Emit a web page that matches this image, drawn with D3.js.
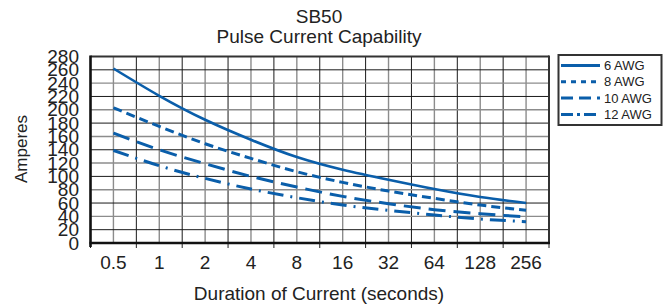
<!DOCTYPE html>
<html>
<head>
<meta charset="utf-8">
<script src="https://cdn.jsdelivr.net/npm/d3@7"></script>
<style>
  body { margin: 0; background: #fff; }
  svg { display: block; font-family: "Liberation Sans", Arial, sans-serif; }
</style>
</head>
<body>
<svg id="chart" width="668" height="308"></svg>
<script>
// pulse durations in seconds (log2 axis)
const durations = [0.5, 1, 2, 4, 8, 16, 32, 64, 128, 256]
// amperes
const awg6  = [262, 221, 185, 155, 129, 110, 95, 81, 69, 60]
const awg8  = [203, 175, 149, 127, 107, 91, 78, 67, 57, 49]
const awg10 = [165, 140, 119, 100, 84, 70, 59, 50, 44, 39]
const awg12 = [139, 116, 97, 81, 68, 57, 49, 42, 36, 32]
const seriesNames = ["6 AWG", "8 AWG", "10 AWG", "12 AWG"]
const yTicks = [0, 20, 40, 60, 80, 100, 120, 140, 160, 180, 200, 220, 240, 260, 280]

const blue = "#0a5eaa"
const dashes = [null, "9,5", "17,8", "16,7,2,7"]
const legendDashes = [null, "5,5", "12,6", "12,4,3,4"]

const svg = d3.select("#chart")
const pLeft = 90.5, pRight = 549, pTop = 56.5, pBottom = 243

const x = d3.scaleLog().base(2)
  .domain([0.5 / Math.SQRT2, 256 * Math.SQRT2])
  .range([pLeft, pRight])
const y = d3.scaleLinear().domain([0, 280]).range([pBottom, pTop])

// vertical grid: half-doubling steps, dark on the tick positions
const vLines = d3.range(1, 20).map(k => 0.5 / Math.SQRT2 * Math.pow(2, k / 2))
svg.append("g").selectAll("line")
  .data(vLines)
  .enter().append("line")
    .attr("x1", d => x(d)).attr("x2", d => x(d))
    .attr("y1", pTop).attr("y2", pBottom)
    .attr("stroke", (d, i) => i % 2 === 0 ? "#8c8c8c" : "#1a1a1a")
    .attr("stroke-width", (d, i) => i % 2 === 0 ? 1.4 : 1)

svg.append("g").selectAll("line")
  .data(yTicks.filter(v => v > 0 && v < 280))
  .enter().append("line")
    .attr("x1", pLeft).attr("x2", pRight)
    .attr("y1", d => y(d)).attr("y2", d => y(d))
    .attr("stroke", d => (d / 20) % 2 === 0 ? "#8c8c8c" : "#1a1a1a")
    .attr("stroke-width", d => (d / 20) % 2 === 0 ? 1.4 : 1)

// frame
svg.append("line").attr("x1", pLeft).attr("x2", pRight).attr("y1", pTop).attr("y2", pTop)
  .attr("stroke", "#333").attr("stroke-width", 2)
svg.append("line").attr("x1", pRight).attr("x2", pRight).attr("y1", pTop - 1).attr("y2", pBottom)
  .attr("stroke", "#333").attr("stroke-width", 2)

// bottom ticks
svg.append("g").selectAll("line")
  .data(d3.range(0, 21, 2).map(k => 0.5 / Math.SQRT2 * Math.pow(2, k / 2)))
  .enter().append("line")
    .attr("x1", d => x(d)).attr("x2", d => x(d))
    .attr("y1", pBottom).attr("y2", pBottom + 5)
    .attr("stroke", "#222").attr("stroke-width", 1)

svg.append("line").attr("x1", pLeft).attr("x2", pLeft).attr("y1", pTop - 1).attr("y2", pBottom + 4)
  .attr("stroke", "#111").attr("stroke-width", 2.6)
svg.append("line").attr("x1", pLeft - 1).attr("x2", pRight + 1).attr("y1", pBottom).attr("y2", pBottom)
  .attr("stroke", "#111").attr("stroke-width", 2.6)

// tick labels (the original packs them tightly, so they touch)
svg.append("g").selectAll("text")
  .data(yTicks)
  .enter().append("text")
    .attr("x", 79).attr("y", d => y(d) + 6.5)
    .attr("text-anchor", "end")
    .attr("font-size", 19).attr("fill", "#222")
    .text(d => d)

svg.append("g").selectAll("text")
  .data(durations)
  .enter().append("text")
    .attr("x", d => x(d)).attr("y", 269)
    .attr("text-anchor", "middle")
    .attr("font-size", 19).attr("fill", "#222")
    .text(d => d)

// titles
svg.append("text").attr("x", 319).attr("y", 23).attr("text-anchor", "middle")
  .attr("font-size", 19).attr("fill", "#222").text("SB50")
svg.append("text").attr("x", 319).attr("y", 43).attr("text-anchor", "middle")
  .attr("font-size", 19).attr("fill", "#222").text("Pulse Current Capability")
svg.append("text").attr("x", 319).attr("y", 300).attr("text-anchor", "middle")
  .attr("font-size", 19).attr("fill", "#222").text("Duration of Current (seconds)")
svg.append("text").attr("transform", "translate(27,149) rotate(-90)")
  .attr("text-anchor", "middle")
  .attr("font-size", 17).attr("fill", "#222").text("Amperes")

// curves
const allSeries = [awg6, awg8, awg10, awg12]
const line = d3.line()
  .x((d, i) => x(durations[i]))
  .y(d => y(d))
  .curve(d3.curveNatural)

svg.append("g").selectAll("path")
  .data(allSeries)
  .enter().append("path")
    .attr("d", line)
    .attr("fill", "none")
    .attr("stroke", blue)
    .attr("stroke-width", (d, i) => i === 0 ? 2.6 : 3)
    .attr("stroke-dasharray", (d, i) => dashes[i])

// legend
const lg = svg.append("g")
lg.append("rect").attr("x", 558.5).attr("y", 55).attr("width", 103).attr("height", 70)
  .attr("fill", "#fff").attr("stroke", "#333").attr("stroke-width", 2)
const rows = lg.selectAll("g.row")
  .data(seriesNames)
  .enter().append("g")
    .attr("class", "row")
    .attr("transform", (d, i) => `translate(0,${65.5 + i * 16.3})`)
rows.append("line")
  .attr("x1", 561).attr("x2", 600).attr("y1", 0).attr("y2", 0)
  .attr("stroke", blue).attr("stroke-width", 3)
  .attr("stroke-dasharray", (d, i) => legendDashes[i])
rows.append("text")
  .attr("x", 604).attr("y", 4.5)
  .attr("font-size", 13).attr("fill", "#222")
  .text(d => d)
</script>
</body>
</html>
